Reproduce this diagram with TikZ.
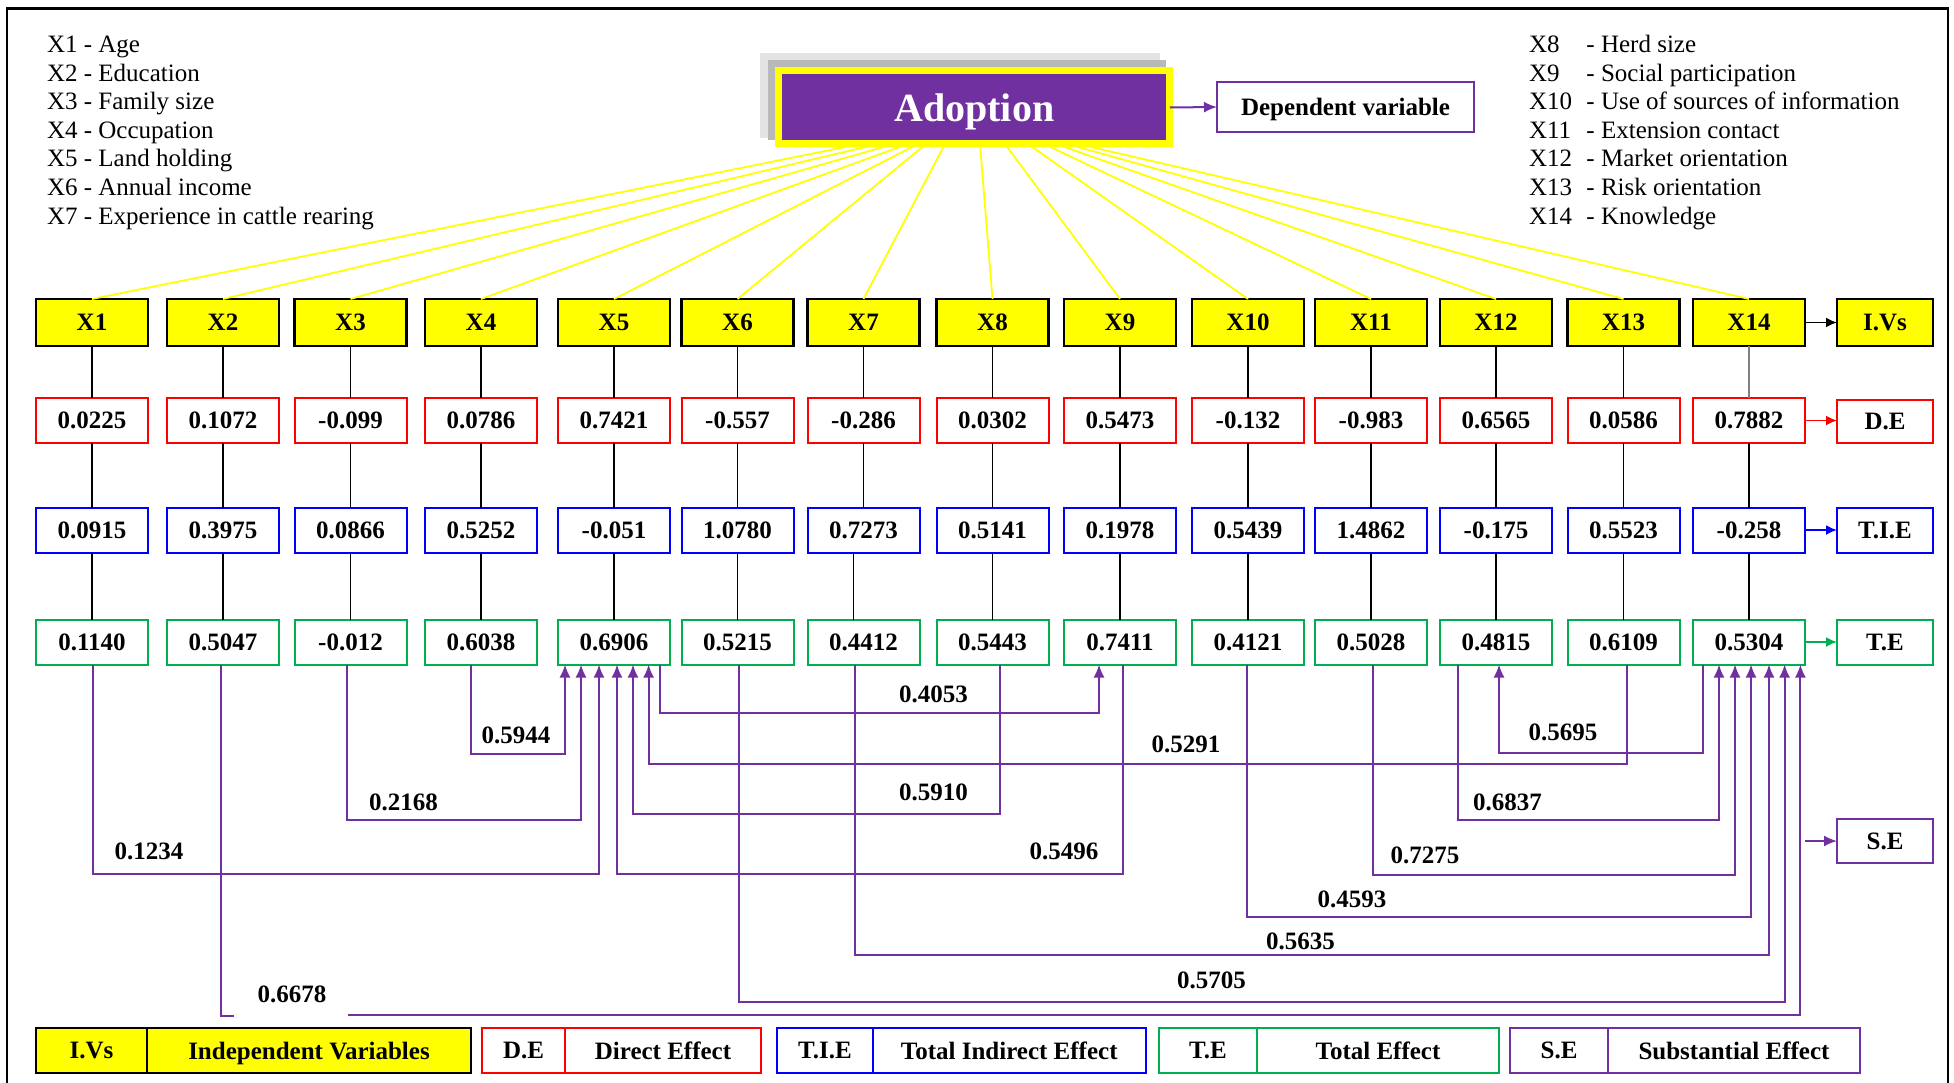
\documentclass[tikz,border=0pt]{standalone}
\usepackage{fontspec}
\setmainfont{Liberation Serif}
\usetikzlibrary{arrows.meta}
\definecolor{pur}{HTML}{7030A0}
\definecolor{grn}{HTML}{00B050}
\definecolor{yel}{HTML}{FFFF00}
\definecolor{rd}{HTML}{FF0000}
\definecolor{bl}{HTML}{0000FF}
\begin{document}
\begin{tikzpicture}[x=1pt,y=-1pt,
 every node/.style={inner sep=0pt,outer sep=0pt},
 bf/.style={font=\fontsize{25}{30}\selectfont\bfseries},
 leg/.style={font=\fontsize{25}{30}\selectfont,anchor=base west},
 box/.style={bf,minimum width=112pt,minimum height=45pt,text depth=0pt,line width=2pt},
 ivbox/.style={box,draw=black,fill=yel,line width=2.6pt,minimum height=47pt},
 debox/.style={box,draw=rd},
 tiebox/.style={box,draw=bl},
 tebox/.style={box,draw=grn},
 sebox/.style={box,draw=pur},
 conn/.style={draw=black,line width=1.8pt},
 fanline/.style={draw=yel,line width=1.8pt},
 pline/.style={draw=pur,line width=2pt},
 parrow/.style={pline,-{Latex[length=13pt,width=11pt]}},
 lab/.style={bf},
]
\useasboundingbox (0,0) rectangle (1954,1083);
% frame
\draw[line width=2.5pt] (7,1090) -- (7,8.5) -- (1948,8.5) -- (1948,1090);

% legends top
\node[leg] (l1) at (47,53) {X1 - Age};
\node[leg] (l2) at (47,81.5) {X2 - Education};
\node[leg] (l3) at (47,110) {X3 - Family size};
\node[leg] (l4) at (47,138.5) {X4 - Occupation};
\node[leg] (l5) at (47,167) {X5 - Land holding};
\node[leg] (l6) at (47,196) {X6 - Annual income};
\node[leg] (l7) at (47,225) {X7 - Experience in cattle rearing};
\node[leg] (r8) at (1529,53) {\makebox[57.5pt][l]{X8}- Herd size};
\node[leg] (r9) at (1529,81.5) {\makebox[57.5pt][l]{X9}- Social participation};
\node[leg] (r10) at (1529,110) {\makebox[57.5pt][l]{X10}- Use of sources of information};
\node[leg] (r11) at (1529,138.5) {\makebox[57.5pt][l]{X11}- Extension contact};
\node[leg] (r12) at (1529,167) {\makebox[57.5pt][l]{X12}- Market orientation};
\node[leg] (r13) at (1529,196) {\makebox[57.5pt][l]{X13}- Risk orientation};
\node[leg] (r14) at (1529,225) {\makebox[57.5pt][l]{X14}- Knowledge};

% adoption with shadow
\fill[gray!22] (760,53) rectangle (1160,138);
\fill[gray!55] (768,60) rectangle (1166,140);
\node[draw=yel,fill=pur,line width=7pt,minimum width=391pt,minimum height=73pt,text depth=0pt,
      text=white,font=\fontsize{40}{44}\selectfont\bfseries] (adopt) at (974.3,107.5) {Adoption};
\node[bf,draw=pur,line width=2pt,minimum width=257pt,minimum height=50pt,text depth=0pt] (dep) at (1345.5,107) {Dependent variable};
\draw[parrow] (adopt.east) -- (dep.west);

% column boxes
\foreach \i/\x/\a/\b/\c in {
 1/92/0.0225/0.0915/0.1140,
 2/223/0.1072/0.3975/0.5047,
 3/350.5/-0.099/0.0866/-0.012,
 4/481/0.0786/0.5252/0.6038,
 5/614/0.7421/-0.051/0.6906,
 6/737.5/-0.557/1.0780/0.5215,
 7/863.5/-0.286/0.7273/0.4412,
 8/992.5/0.0302/0.5141/0.5443,
 9/1120/0.5473/0.1978/0.7411,
 10/1248/-0.132/0.5439/0.4121,
 11/1371/-0.983/1.4862/0.5028,
 12/1496/0.6565/-0.175/0.4815,
 13/1623.5/0.0586/0.5523/0.6109,
 14/1749/0.7882/-0.258/0.5304}{
 \node[ivbox] (iv\i) at (\x,322.5) {X\i};
 \node[debox] (de\i) at (\x,420.5) {\a};
 \node[tiebox] (tie\i) at (\x,530) {\b};
 \node[tebox] (te\i) at (\x,642) {\c};
}

% fan lines
\foreach \i/\dx in {1/-114.3,2/-96.3,3/-80.3,4/-66.3,5/-56.3,6/-48.3,7/-29.3,8/5.7,9/30.7,10/53.7,11/69.7,12/81.7,13/92.7,14/103.7}{
 \draw[fanline] ([xshift=\dx pt]adopt.south) -- (iv\i.north);
}

% black connectors
\foreach \i in {1,...,13}{
 \draw[conn] (iv\i.south) -- (de\i.north);
}
\draw[conn,draw=gray] (iv14.south) -- (de14.north);
\foreach \i in {1,...,14}{
 \draw[conn] (de\i.south) -- (tie\i.north);
}
\foreach \i in {1,2,3,4,5,6,8,9,10,11,12,13,14}{
 \draw[conn] (tie\i.south) -- (te\i.north);
}
\draw[conn] ([xshift=-10pt]tie7.south) -- ([xshift=-10pt]te7.north);

% side legend boxes
\node[ivbox,minimum width=96pt] (sIV) at (1885,322.5) {I.Vs};
\node[debox,minimum width=96pt,minimum height=43pt] (sDE) at (1885,421.5) {D.E};
\node[tiebox,minimum width=96pt] (sTIE) at (1885,530) {T.I.E};
\node[tebox,minimum width=96pt] (sTE) at (1885,642) {T.E};
\node[sebox,minimum width=96pt,minimum height=44pt] (sSE) at (1885,841) {S.E};
\draw[conn,-{Latex[length=11pt,width=10pt]}] (iv14.east) -- (sIV.west);
\draw[conn,draw=rd,-{Latex[length=11pt,width=10pt]}] (de14.east) -- (de14.east -| sDE.west);
\draw[conn,draw=bl,-{Latex[length=11pt,width=10pt]}] (tie14.east) -- (sTIE.west);
\draw[conn,draw=grn,-{Latex[length=11pt,width=10pt]}] (te14.east) -- (sTE.west);
\coordinate (seStart) at (1805,841);
\draw[parrow] (seStart) -- (sSE.west);

% purple paths into X5
\draw[parrow] ([xshift=-10pt]te4.south) -- ++(0,89) -| ([xshift=-49pt]te5.south);
\draw[parrow] ([xshift=-3.5pt]te3.south) -- ++(0,155) -| ([xshift=-33pt]te5.south);
\draw[parrow] ([xshift=1pt]te1.south) -- ++(0,209) -| ([xshift=-15pt]te5.south);
\draw[parrow] ([xshift=3pt]te9.south) -- ++(0,209) -| ([xshift=3pt]te5.south);
\draw[parrow] ([xshift=7pt]te8.south) -- ++(0,149) -| ([xshift=19pt]te5.south);
\draw[parrow] ([xshift=3pt]te13.south) -- ++(0,99) -| ([xshift=34.6pt]te5.south);
% X5 -> X9
\draw[parrow] ([xshift=46pt]te5.south) -- ++(0,48) -| ([xshift=-21pt]te9.south);
% X14 -> X12
\draw[parrow] ([xshift=-46.5pt]te14.south) -- ++(0,88) -| ([xshift=3pt]te12.south);
% into X14
\draw[parrow] ([xshift=-38.4pt]te12.south) -- ++(0,155) -| ([xshift=-30pt]te14.south);
\draw[parrow] ([xshift=2pt]te11.south) -- ++(0,210) -| ([xshift=-14pt]te14.south);
\draw[parrow] ([xshift=-1pt]te10.south) -- ++(0,252) -| ([xshift=2pt]te14.south);
\draw[parrow] ([xshift=-8.5pt]te7.south) -- ++(0,290) -| ([xshift=20pt]te14.south);
\draw[parrow] ([xshift=1.5pt]te6.south) -- ++(0,337) -| ([xshift=35.6pt]te14.south);
\coordinate (gapR) at (348,1015);
\draw[pline] ([xshift=-2pt]te2.south) -- ++(0,351) -- ++(12.5,0);
\draw[parrow] (gapR) -| ([xshift=51.4pt]te14.south);

% path labels
\node[lab] (v5944) at (516,735) {0.5944};
\node[lab] (v2168) at (403.5,802) {0.2168};
\node[lab] (v1234) at (149,851) {0.1234};
\node[lab] (v6678) at (292,994) {0.6678};
\node[lab] (v4053) at (933.5,694) {0.4053};
\node[lab] (v5291) at (1186,744) {0.5291};
\node[lab] (v5910) at (933.5,792) {0.5910};
\node[lab] (v5496) at (1064,851) {0.5496};
\node[lab] (v5635) at (1300.5,941) {0.5635};
\node[lab] (v5705) at (1211.5,980) {0.5705};
\node[lab] (v4593) at (1352,899) {0.4593};
\node[lab] (v5695) at (1563,732) {0.5695};
\node[lab] (v6837) at (1507.5,802) {0.6837};
\node[lab] (v7275) at (1425,855) {0.7275};

% bottom legend
\node[ivbox,minimum width=111pt,minimum height=45pt] (gIVa) at (91.5,1050.5) {I.Vs};
\node[ivbox,minimum width=324pt,minimum height=45pt] (gIVb) at (309,1050.5) {Independent Variables};
\node[debox,minimum width=83pt] (gDEa) at (523.5,1050.5) {D.E};
\node[debox,minimum width=196pt] (gDEb) at (663,1050.5) {Direct Effect};
\node[tiebox,minimum width=96pt] (gTIEa) at (825,1050.5) {T.I.E};
\node[tiebox,minimum width=272.5pt] (gTIEb) at (1009.25,1050.5) {Total Indirect Effect};
\node[tebox,minimum width=98pt] (gTEa) at (1208,1050.5) {T.E};
\node[tebox,minimum width=242pt] (gTEb) at (1378,1050.5) {Total Effect};
\node[sebox,minimum width=98pt] (gSEa) at (1559,1050.5) {S.E};
\node[sebox,minimum width=252pt] (gSEb) at (1734,1050.5) {Substantial Effect};
\end{tikzpicture}
\end{document}
